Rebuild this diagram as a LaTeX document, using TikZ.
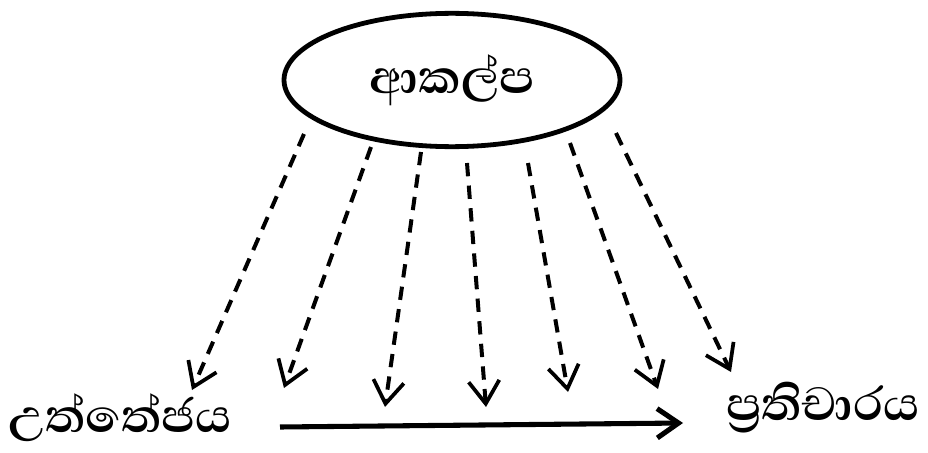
\documentclass[tikz,border=0pt]{standalone}
\usepackage{fontspec}
\newfontfamily\sinhala[Script=Sinhala]{Abhaya Libre}[BoldFont={Abhaya Libre SemiBold}]
\usetikzlibrary{arrows.meta,shapes.geometric,positioning}

\begin{document}
\begin{tikzpicture}[x=0.75pt, y=-0.75pt, every node/.style={font=\sinhala\bfseries\fontsize{45}{50}\selectfont},
  infl/.style={line width=3pt, dash pattern=on 10pt off 7pt, -{Straight Barb[length=17pt,width=23pt,line width=2.8pt]}},
  mainarrow/.style={line width=3.8pt, -{Straight Barb[length=16pt,width=22pt]}}]
  \useasboundingbox (0,0) rectangle (928,453);
  % attitude ellipse  top centre  (y axis runs downward, pixel units)
  \node[draw, ellipse, line width=3.6pt, minimum width=252pt, minimum height=100pt, inner sep=0pt] (att) at (452,80) {ආකල්ප};
  % stimulus left, response right
  \node[anchor=west, inner sep=0pt] (stim) at (8,418) {උත්තේජය};
  \node[anchor=west, inner sep=0pt] (resp) at (726,408) {ප්^^^^200dරතිචාරය};
  % main stimulus -> response arrow
  \coordinate (ms) at (280,427);
  \coordinate (me) at (683,423);
  \draw[mainarrow] (ms) -- (me);
  % dashed influence arrows  start / tip
  \foreach \i/\sx/\sy/\tx/\ty in {1/304/134/192/390, 2/371/147/284/388, 3/421/152/385/407,
      4/467/163/486/407, 5/528/163/568/392, 6/570/143/658/389, 7/616/133/731/372}{
    \coordinate (s\i) at (\sx,\sy);
    \coordinate (t\i) at (\tx,\ty);
    \draw[infl] (s\i) -- (t\i);
  }
\end{tikzpicture}
\end{document}
